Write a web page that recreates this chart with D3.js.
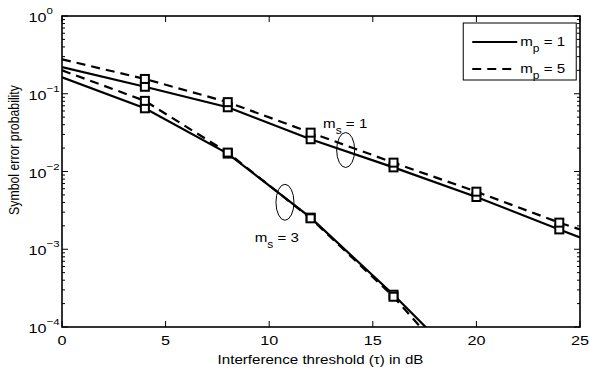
<!DOCTYPE html>
<html>
<head>
<meta charset="utf-8">
<script src="https://cdn.jsdelivr.net/npm/d3@7"></script>
<style>
  body { margin: 0; background: #fff; }
  text { font-family: "Liberation Sans", Arial, sans-serif; fill: #000; }
</style>
</head>
<body>
<div id="chart"></div>
<script>
// x values (dB) and symbol error probabilities
const tau = [0, 4, 8, 12, 16, 20, 24, 25];
const ms1_mp1 = [0.22, 0.123, 0.067, 0.026, 0.0113, 0.0047, 0.0018, 0.00142];
const ms1_mp5 = [0.277, 0.155, 0.078, 0.0316, 0.013, 0.0055, 0.0022, 0.0018];
const tau3 = [0, 4, 8, 12, 16, 20];
const ms3_mp1 = [0.163, 0.065, 0.017, 0.00255, 0.00026, 0.000022];
const ms3_mp5 = [0.2, 0.081, 0.0175, 0.0025, 0.000245, 0.0000155];
const markerX = [4, 8, 12, 16, 20, 24];
const xTicks = [0, 5, 10, 15, 20, 25];
const yTicks = [1, 0.1, 0.01, 0.001, 0.0001];
const yTickExp = ["0", "\u22121", "\u22122", "\u22123", "\u22124"];

const margin = { top: 16, right: 9, bottom: 44, left: 62 };
const width = 589 - margin.left - margin.right;
const height = 371 - margin.top - margin.bottom;
const stretch = 1.2; // the figure text is a little wider than tall

const svg = d3.select("#chart").append("svg")
    .attr("width", 589)
    .attr("height", 371);

const g = svg.append("g")
    .attr("transform", `translate(${margin.left},${margin.top})`);

const x = d3.scaleLinear().domain([0, 25]).range([0, width]);
const y = d3.scaleLog().domain([1e-4, 1]).range([height, 0]);

// text placed at (px,py), widened horizontally
function label(px, py, size, anchor) {
    return g.append("g")
        .attr("transform", `translate(${px},${py}) scale(${stretch},1)`)
        .append("text")
        .attr("font-size", size)
        .attr("text-anchor", anchor || "start");
}

g.append("clipPath").attr("id", "clip")
    .append("rect").attr("width", width).attr("height", height);

// minor log ticks, inside on left and right
const minor = [];
for (let e = -4; e < 0; e++) {
    for (let k = 2; k <= 9; k++) minor.push(k * Math.pow(10, e));
}
const tickG = g.append("g").attr("stroke", "#000").attr("stroke-width", 1);
minor.forEach(v => {
    tickG.append("line").attr("x1", 0).attr("x2", 3).attr("y1", y(v)).attr("y2", y(v));
    tickG.append("line").attr("x1", width).attr("x2", width - 3).attr("y1", y(v)).attr("y2", y(v));
});
yTicks.forEach(v => {
    tickG.append("line").attr("x1", 0).attr("x2", 6).attr("y1", y(v)).attr("y2", y(v));
    tickG.append("line").attr("x1", width).attr("x2", width - 6).attr("y1", y(v)).attr("y2", y(v));
});
xTicks.forEach(v => {
    tickG.append("line").attr("x1", x(v)).attr("x2", x(v)).attr("y1", height).attr("y2", height - 6);
    tickG.append("line").attr("x1", x(v)).attr("x2", x(v)).attr("y1", 0).attr("y2", 6);
});

// box
g.append("rect")
    .attr("width", width).attr("height", height)
    .attr("fill", "none").attr("stroke", "#000").attr("stroke-width", 1.6);

// tick labels
xTicks.forEach(v => {
    label(x(v), height + 18, 13.5, "middle").text(v);
});
yTicks.forEach((v, i) => {
    const t = label(-33.5, y(v) + 6, 13.5, "start");
    t.append("tspan").text("10");
    t.append("tspan").attr("dy", -8).attr("font-size", 9.5).text(yTickExp[i]);
});

// axis titles
label(x(12.5) - 0.5, height + 37, 12.6, "middle")
    .text("Interference threshold (\u03c4) in dB");
g.append("g")
    .attr("transform", `translate(${18.5 - margin.left},${150 - margin.top}) scale(${stretch},1) rotate(-90)`)
    .append("text")
    .attr("font-size", 12.3).attr("text-anchor", "middle")
    .text("Symbol error probability");

// curves
const line = d3.line().x(d => x(d[0])).y(d => y(d[1]));
const series = [
    { xs: tau, ys: ms1_mp1, dash: null },
    { xs: tau, ys: ms1_mp5, dash: "9,6" },
    { xs: tau3, ys: ms3_mp1, dash: null },
    { xs: tau3, ys: ms3_mp5, dash: "9,6" }
];
const plot = g.append("g").attr("clip-path", "url(#clip)");
series.forEach(s => {
    const pts = s.xs.map((v, i) => [v, s.ys[i]]);
    plot.append("path")
        .attr("d", line(pts))
        .attr("fill", "none").attr("stroke", "#000").attr("stroke-width", 2.2)
        .attr("stroke-dasharray", s.dash);
    plot.selectAll(null)
        .data(pts.filter(p => markerX.includes(p[0]) && p[1] >= 1e-4))
        .enter().append("rect")
        .attr("x", d => x(d[0]) - 4).attr("y", d => y(d[1]) - 4)
        .attr("width", 8).attr("height", 8)
        .attr("fill", "#fff").attr("stroke", "#000").attr("stroke-width", 2);
});

// annotations
g.append("ellipse")
    .attr("cx", x(13.69)).attr("cy", y(0.0189)).attr("rx", 9).attr("ry", 17.5)
    .attr("fill", "none").attr("stroke", "#000").attr("stroke-width", 1);
g.append("ellipse")
    .attr("cx", x(10.76)).attr("cy", y(0.00402)).attr("rx", 9).attr("ry", 18)
    .attr("fill", "none").attr("stroke", "#000").attr("stroke-width", 1);

function subLabel(px, py, sub, val) {
    const t = label(px, py, 12.6, "start");
    t.append("tspan").text("m");
    t.append("tspan").attr("dy", 6).attr("font-size", 10).text(sub);
    t.append("tspan").attr("dy", -6).text(" = " + val);
}
subLabel(x(12.6), y(0.0189) - 22, "s", "1");
subLabel(x(9.3), y(0.00402) + 40, "s", "3");

// legend
const lx = x(19.365), ly0 = y(1) + 7;
g.append("rect").attr("x", lx).attr("y", ly0).attr("width", 113).attr("height", 57)
    .attr("fill", "#fff").attr("stroke", "#000").attr("stroke-width", 1);
[{ dash: null, val: "1" }, { dash: "9,6", val: "5" }].forEach((d, i) => {
    const ly = ly0 + 19 + i * 27;
    g.append("line").attr("x1", lx + 9).attr("x2", lx + 54).attr("y1", ly).attr("y2", ly)
        .attr("stroke", "#000").attr("stroke-width", 2.2).attr("stroke-dasharray", d.dash);
    subLabel(lx + 57, ly + 4, "p", d.val);
});
</script>
</body>
</html>
